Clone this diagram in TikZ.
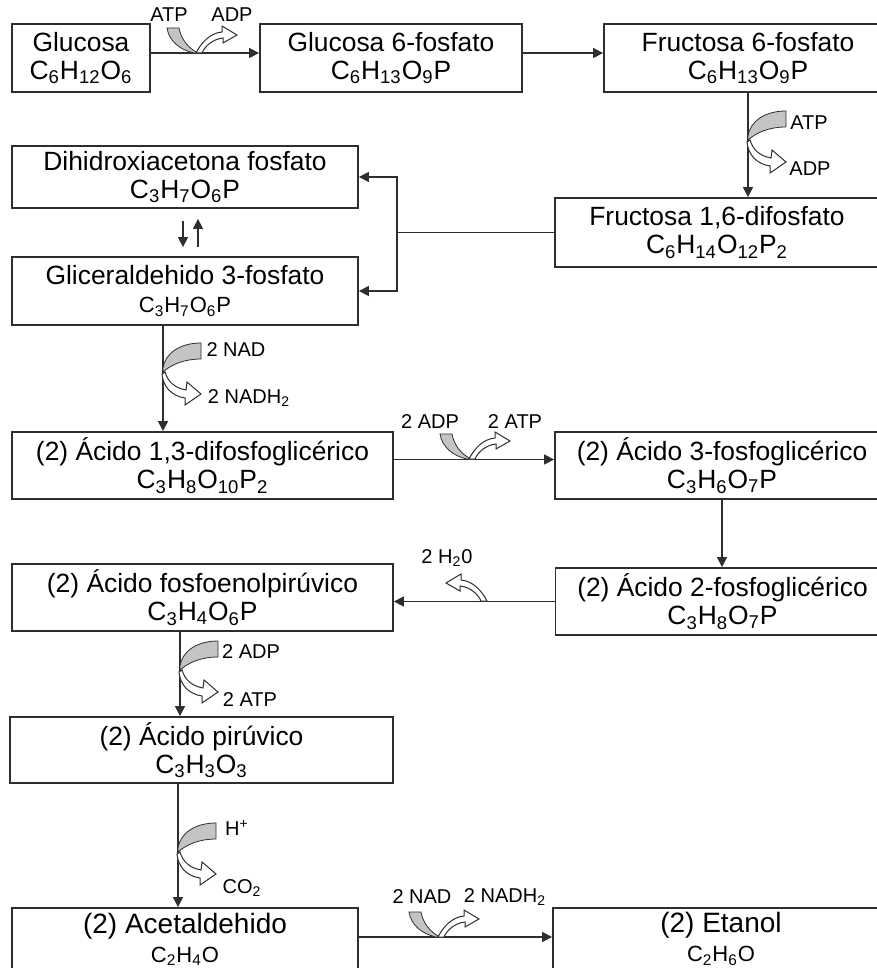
\documentclass[tikz,border=0pt]{standalone}
\usepackage{fontspec}
\setmainfont{Liberation Sans}
\usepackage{xcolor}
\usetikzlibrary{arrows.meta,calc}
\definecolor{Edge}{HTML}{2E2E2E}
\definecolor{Band}{HTML}{C4C4C4}
\newcommand{\chemsub}[1]{\textsubscript{#1}}
\tikzset{
  molbox/.style={draw=Edge,line width=0.9pt,align=center,inner sep=2pt,
                 font=\fontsize{13.2}{14}\selectfont},
  cof/.style={font=\fontsize{10}{11}\selectfont,inner sep=0pt},
  flow/.style={-{Triangle[length=5pt,width=5pt]},line width=0.7pt,draw=Edge},
  joint/.style={line width=0.7pt,draw=Edge},
  band/.style={fill=Band,draw=Edge,line width=0.4pt},
  hollow/.style={fill=white,draw=Edge,line width=0.5pt},
  hcofin/.pic={\path[band] (-31,-25) -- (-19,-25) .. controls (-17,-14) and (-10,-5) .. (0,0)
      -- (-4,0) .. controls (-18,-3) and (-29,-12) .. (-31,-25) -- cycle;},
  hcofout/.pic={\path[hollow] (-2,0) .. controls (3,-10) and (12,-20) .. (24,-21)
      -- (24,-27) -- (39,-18) -- (25,-10) -- (25,-15)
      .. controls (15,-14) and (7,-7) .. (4,0) -- cycle;},
  vcofin/.pic={\path[band] (38,-29) -- (38,-13) .. controls (22,-13) and (9,-8) .. (0,0)
      -- (0,-4) .. controls (2,-18) and (16,-29) .. (38,-29) -- cycle;},
  vcofout/.pic={\path[hollow] (-1,2) .. controls (0,14) and (8,24) .. (22,26)
      -- (22,33) -- (38,22) -- (24,10) -- (23,18)
      .. controls (12,16) and (5,10) .. (2,0) -- cycle;}
}

\begin{document}
\begin{tikzpicture}[x=0.5pt,y=-0.5pt]
  \useasboundingbox (0,0) rectangle (877,968);
  \clip (0,0) rectangle (877,968);
  % compounds
  \node[molbox,minimum width=69pt,minimum height=34pt] (gluc) at (81,58) {Glucosa\\C\chemsub{6}H\chemsub{12}O\chemsub{6}};
  \node[molbox,minimum width=131pt,minimum height=34pt] (g6p) at (391,58) {Glucosa 6-fosfato\\C\chemsub{6}H\chemsub{13}O\chemsub{9}P};
  \node[molbox,minimum width=144pt,minimum height=34pt] (f6p) at (748,58) {Fructosa 6-fosfato\\C\chemsub{6}H\chemsub{13}O\chemsub{9}P};
  \node[molbox,minimum width=162pt,minimum height=34.5pt] (f16p) at (717,232.5) {Fructosa 1,6-difosfato\\C\chemsub{6}H\chemsub{14}O\chemsub{12}P\chemsub{2}};
  \node[molbox,minimum width=173pt,minimum height=31pt] (dhap) at (185,177) {Dihidroxiacetona fosfato\\C\chemsub{3}H\chemsub{7}O\chemsub{6}P};
  \node[molbox,minimum width=173pt,minimum height=34pt] (g3p) at (185,291) {Gliceraldehido 3-fosfato\\{\fontsize{11}{12}\selectfont C\chemsub{3}H\chemsub{7}O\chemsub{6}P}};
  \node[molbox,minimum width=190.5pt,minimum height=33.5pt] (bpg) at (202.5,465.5) {(2) Ácido 1,3-difosfoglicérico\\C\chemsub{3}H\chemsub{8}O\chemsub{10}P\chemsub{2}};
  \node[molbox,minimum width=167pt,minimum height=33.5pt] (pg3) at (722,465.5) {(2) Ácido 3-fosfoglicérico\\C\chemsub{3}H\chemsub{6}O\chemsub{7}P};
  \node[molbox,minimum width=167pt,minimum height=33.5pt] (pg2) at (722.5,601.5) {(2) Ácido 2-fosfoglicérico\\C\chemsub{3}H\chemsub{8}O\chemsub{7}P};
  \node[molbox,minimum width=190.5pt,minimum height=33.5pt] (pep) at (202.5,597.5) {(2) Ácido fosfoenolpirúvico\\C\chemsub{3}H\chemsub{4}O\chemsub{6}P};
  \node[molbox,minimum width=191.5pt,minimum height=33pt] (pyr) at (201.5,750) {(2) Ácido pirúvico\\C\chemsub{3}H\chemsub{3}O\chemsub{3}};
  \node[molbox,minimum width=173pt,minimum height=31pt,font=\fontsize{14}{14.5}\selectfont] (acet) at (185,939) {(2) Acetaldehido\\{\fontsize{11}{13}\selectfont C\chemsub{2}H\chemsub{4}O}};
  \node[molbox,minimum width=168pt,minimum height=31pt,font=\fontsize{14}{14.5}\selectfont] (etoh) at (721,939) {(2) Etanol\\{\fontsize{11}{13}\selectfont C\chemsub{2}H\chemsub{6}O}};
  \coordinate (split) at (397,232.5);
  \coordinate (g3pout) at ($(g3p.south)+(-22,0)$);
  \coordinate (pepout) at ($(pep.south)+(-22.5,0)$);
  \coordinate (pyrout) at ($(pyr.south)+(-23.5,0)$);

  % connectors
  \draw[flow] ([yshift=2.5pt]gluc.east) -- ([yshift=2.5pt]g6p.west);
  \draw[flow] ([yshift=2.5pt]g6p.east) -- ([yshift=2.5pt]f6p.west);
  \draw[flow] (f6p.south) -- (f6p.south |- f16p.north);
  \draw[joint] (f16p.west) -- (split);
  \draw[flow] (split) |- (dhap.east);
  \draw[flow] (split) |- (g3p.east);
  \draw[flow] ($(dhap.south)+(-2,12)$) -- ($(g3p.north)+(-2,-9)$);
  \draw[flow] ($(g3p.north)+(13,-9)$) -- ($(dhap.south)+(13,10)$);
  \draw[flow] (g3pout) -- (g3pout |- bpg.north);
  \draw[flow] ([yshift=3pt]bpg.east) -- ([yshift=3pt]pg3.west);
  \draw[flow] (pg3.south) -- (pg3.south |- pg2.north);
  \draw[flow] (pg2.west) -- (pg2.west -| pep.east);
  \draw[flow] (pepout) -- (pepout |- pyr.north);
  \draw[flow] (pyrout) -- (pyrout |- acet.north);
  \draw[flow] ([yshift=1pt]acet.east) -- ([yshift=1pt]etoh.west);

  % cofactors
  \pic at (198,53) {hcofin};
  \pic at (198,53) {hcofout};
  \node[cof] (atp1) at (169,15) {ATP};
  \node[cof] (adp1) at (232,15) {ADP};

  \pic at (748,140) {vcofin};
  \pic at (748,140) {vcofout};
  \node[cof] (atp2) at (809,123) {ATP};
  \node[cof] (adp2) at (810,169) {ADP};

  \pic at (163,372) {vcofin};
  \pic at (163,372) {vcofout};
  \node[cof] (nad1) at (236,350) {2 NAD};
  \node[cof] (nadh1) at (249,398) {2 NADH\chemsub{2}};

  \pic at (471,459) {hcofin};
  \pic at (471,459) {hcofout};
  \node[cof] (adp3) at (430,422) {2 ADP};
  \node[cof] (atp3) at (515,422) {2 ATP};

  \pic[xscale=-1] at (485,601) {hcofout};
  \node[cof] (water) at (447,558) {2 H\chemsub{2}0};

  \pic at (180,670) {vcofin};
  \pic at (180,670) {vcofout};
  \node[cof] (adp4) at (251,652) {2 ADP};
  \node[cof] (atp4) at (250,700) {2 ATP};

  \pic at (178,852) {vcofin};
  \pic at (178,852) {vcofout};
  \node[cof] (proton) at (237,828) {H\textsuperscript{+}};
  \node[cof] (co2) at (242,888) {CO\chemsub{2}};

  \pic at (440,937) {hcofin};
  \pic at (440,937) {hcofout};
  \node[cof] (nad2) at (422,897) {2 NAD};
  \node[cof] (nadh2) at (505,897) {2 NADH\chemsub{2}};
\end{tikzpicture}
\end{document}
